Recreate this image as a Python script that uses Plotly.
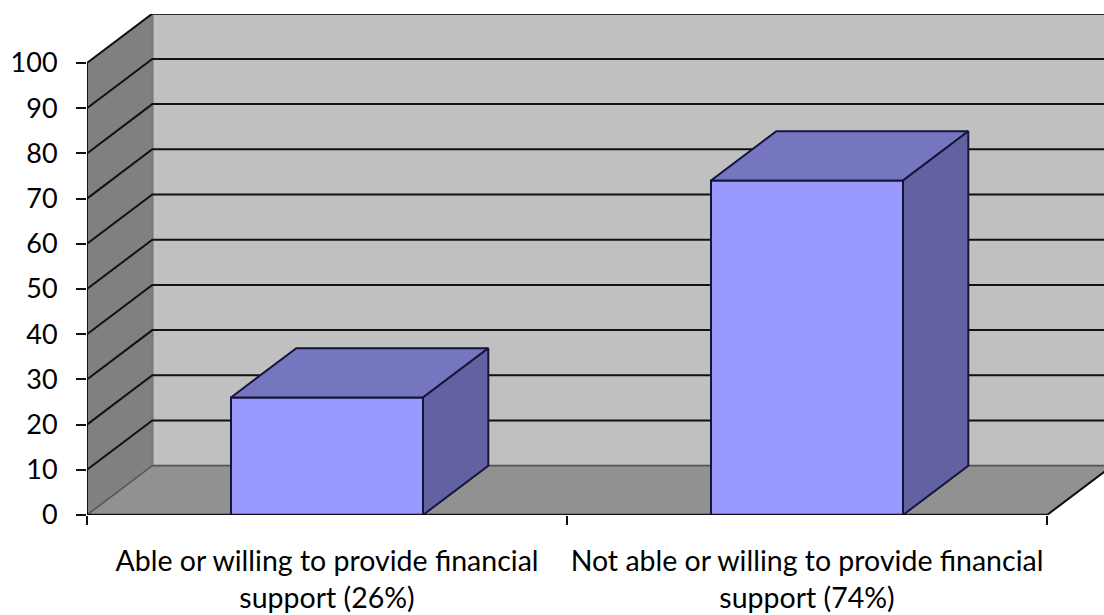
import plotly.graph_objects as go

# --- data ---
categories = ["Able or willing to provide financial<br>support (26%)",
              "Not able or willing to provide financial<br>support (74%)"]
values = [26, 74]
y_ticks = list(range(0, 101, 10))

# --- style / geometry of the pseudo-3D view (in axis units) ---
PX_PER_CAT = 480.0
PX_PER_UNIT = 4.52
DX = 65.3 / PX_PER_CAT
DY = 49.3 / PX_PER_UNIT
BAR_W = 0.40
X_MAX = len(categories)
FONT = "Lato"

fig = go.Figure()


def poly(xs, ys, fill, line_color, width=1.6):
    fig.add_trace(go.Scatter(
        x=list(xs) + [xs[0]], y=list(ys) + [ys[0]], mode="lines", fill="toself",
        fillcolor=fill, line=dict(color=line_color, width=width),
        hoverinfo="skip", showlegend=False, cliponaxis=False))


def line(xs, ys, color="#111111", width=2):
    fig.add_trace(go.Scatter(
        x=xs, y=ys, mode="lines", line=dict(color=color, width=width),
        hoverinfo="skip", showlegend=False, cliponaxis=False))


top = y_ticks[-1]
# back wall, side wall, floor
poly([DX, X_MAX + DX, X_MAX + DX, DX], [DY, DY, top + DY, top + DY], "#c0c0c0", "#444444", 2)
poly([0, DX, DX, 0], [0, DY, top + DY, top], "#808080", "#777777", 1.5)
# gridlines
for v in y_ticks[1:]:
    line([0, DX, X_MAX + DX], [v, v + DY, v + DY])
line([DX, X_MAX + DX], [top + DY, top + DY], "#333333")
poly([0, DX, X_MAX + DX, X_MAX], [0, DY, DY, 0], "#919191", "#555555", 1.5)
line([X_MAX, X_MAX + DX], [0, DY], "#111111", 2)

# bars
for i, v in enumerate(values):
    l, r = i + 0.5 - BAR_W / 2, i + 0.5 + BAR_W / 2
    poly([l, r, r, l], [0, 0, v, v], "#9999ff", "#14143c", 2)
    poly([l, r, r + DX, l + DX], [v, v, v + DY, v + DY], "#7676c0", "#14143c", 2)
    poly([r, r + DX, r + DX, r], [0, DY, v + DY, v], "#6262a2", "#14143c", 2)

# axis lines
line([0, X_MAX], [0, 0], "#111111", 2.5)
line([0, 0], [0, top], "#111111", 2)

fig.update_layout(
    width=1104, height=615, autosize=False,
    margin=dict(l=87, r=0, t=14, b=100, autoexpand=False),
    paper_bgcolor="white", plot_bgcolor="white", showlegend=False,
    font=dict(family=FONT, color="black"),
    xaxis=dict(
        range=[0, (1104 - 87) / PX_PER_CAT], showgrid=False, zeroline=False, showline=False,
        tickmode="array", tickvals=[i + 0.5 for i in range(len(categories))],
        ticktext=categories, ticklabelstandoff=26,
        ticks="", tickangle=0, tickfont=dict(size=28.5, family=FONT, color="black"),
        minor=dict(tickmode="array", tickvals=list(range(X_MAX + 1)), ticks="outside",
                   ticklen=9, tickwidth=2, tickcolor="#111111", showgrid=False),
    ),
    yaxis=dict(
        range=[0, 501 / PX_PER_UNIT], showgrid=False, zeroline=False, showline=False,
        tickmode="array", tickvals=y_ticks, ticks="outside", ticklen=10, tickwidth=2,
        tickcolor="#111111", ticklabelstandoff=13,
        tickfont=dict(size=27, family=FONT, color="black"),
    ),
)
fig.write_html("out.html", config={"displayModeBar": False},
               post_script="document.body.style.margin='0';document.body.style.overflow='hidden';")
